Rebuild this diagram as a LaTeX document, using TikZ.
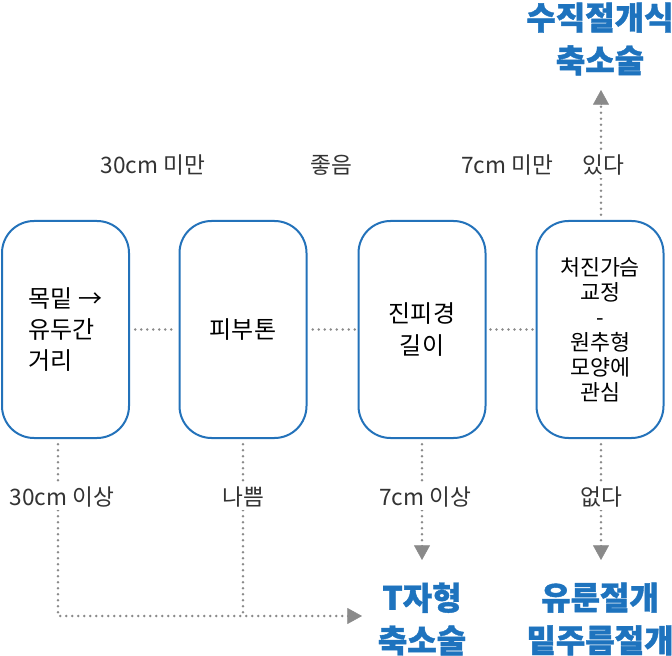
\documentclass[tikz,border=0pt]{standalone}
\usepackage{fontspec}
\setmainfont{Noto Sans CJK KR}
\newfontfamily\titlefont[BoldFont={Noto Sans CJK KR Black}, BoldFeatures={FakeBold=1.2}]{Noto Sans CJK KR}
\usetikzlibrary{arrows.meta}
\definecolor{boxblue}{HTML}{2372BA}
\definecolor{titleblue}{HTML}{1E73BE}
\definecolor{dotgray}{HTML}{8A8A8A}
\definecolor{labgray}{HTML}{333333}
\begin{document}
\begin{tikzpicture}[x=0.75pt,y=-0.75pt,
  stepbox/.style={draw=boxblue, line width=1.5pt, rounded corners=24pt,
    minimum width=95.25pt, minimum height=162.75pt, inner sep=0pt,
    font=\fontsize{18}{23.5}\selectfont, align=center},
  dotline/.style={draw=dotgray, line width=2.1pt, line cap=round,
    dash pattern=on 0pt off 4.5pt},
  arr/.style={-{Triangle[length=11pt,width=12pt]}, dotgray},
  lab/.style={fill=white, text=labgray, inner sep=2pt,
    font=\fontsize{17}{20}\selectfont},
  result/.style={text=titleblue, align=center,
    font=\fontsize{24}{32}\selectfont\titlefont\bfseries}]
\useasboundingbox (0,0) rectangle (672,656);
% boxes
\node[stepbox, align=left] (b1) at (65.5,329.5) {목밑 →\\유두간\\거리};
\node[stepbox] (b2) at (243,329.5) {피부톤};
\node[stepbox] (b3) at (422,329.5) {진피경\\길이};
\node[stepbox, font=\fontsize{16.3}{18.75}\selectfont] (b4) at (600,329.5) {처진가슴\\교정\\-\\원추형\\모양에\\관심};
% results
\node[result] (r1) at (422,619) {T자형\\축소술};
\node[result] (r2) at (600,619) {유룬절개\\밑주름절개};
\node[result] (r3) at (600,39) {수직절개식\\축소술};
% coordinates
\coordinate (c1) at (58,616);
\coordinate (c2) at (243,616);
\coordinate (t1) at (362,616);
\coordinate (t3) at (422,560);
\coordinate (t4) at (601,560);
\coordinate (t5) at (601,90);
% horizontal connectors
\draw[dotline] ([xshift=4pt]b1.east) -- ([xshift=-1.5pt]b2.west);
\draw[dotline] ([xshift=4pt]b2.east) -- ([xshift=-1.5pt]b3.west);
\draw[dotline] ([xshift=3pt]b3.east) -- ([xshift=-2pt]b4.west);
% verticals
\draw[dotline] ([yshift=-4pt]b1.south -| c1) -- (c1) -- ([xshift=-8pt]t1);
\draw[arr] ([xshift=-9pt]t1) -- (t1);
\draw[dotline] ([yshift=-4pt]b2.south) -- (c2);
\draw[dotline] ([yshift=-4pt]b3.south) -- ([yshift=8pt]t3);
\draw[arr] ([yshift=9pt]t3) -- (t3);
\draw[dotline] ([yshift=-4pt]b4.south -| t4) -- ([yshift=8pt]t4);
\draw[arr] ([yshift=9pt]t4) -- (t4);
\draw[dotline] ([yshift=4pt]b4.north -| t5) -- ([yshift=-8pt]t5);
\draw[arr] ([yshift=-9pt]t5) -- (t5);
% labels
\node[lab] (l1) at (62,497) {30cm 이상};
\node[lab] (l2) at (243,497) {나쁨};
\node[lab] (l3) at (425,497) {7cm 이상};
\node[lab] (l4) at (601,497) {없다};
\node[lab] (l5) at (153,165) {30cm 미만};
\node[lab] (l6) at (331,165) {좋음};
\node[lab] (l7) at (507,165) {7cm 미만};
\node[lab] (l8) at (603,165) {있다};
\end{tikzpicture}
\end{document}
